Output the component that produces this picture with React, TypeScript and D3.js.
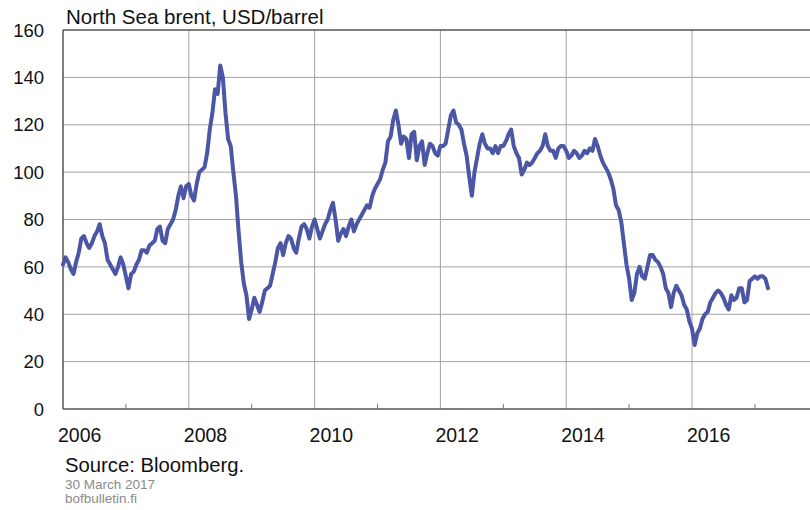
import React from 'react'
import * as d3 from 'd3'

// Brent, USD/barrel, two readings per month
const p2006 = [61, 64, 62, 59, 57, 62, 66, 72, 73, 70, 68, 70, 73, 75, 78, 73, 70, 63, 61, 59, 57, 60, 64, 61]
const p2007 = [56, 51, 57, 58, 61, 63, 67, 67, 66, 69, 70, 71, 76, 77, 71, 70, 76, 78, 80, 84, 90, 94, 89, 94]
const p2008 = [95, 90, 88, 95, 100, 101, 102, 108, 118, 125, 135, 133, 145, 140, 125, 114, 111, 100, 90, 75, 62, 53, 48, 38]
const p2009 = [42, 47, 44, 41, 45, 50, 51, 52, 57, 62, 68, 70, 65, 70, 73, 72, 68, 66, 72, 77, 78, 76, 72, 77]
const p2010 = [80, 76, 72, 75, 78, 80, 84, 87, 80, 71, 74, 76, 73, 77, 80, 75, 78, 80, 82, 84, 86, 85, 90, 93]
const p2011 = [95, 97, 101, 104, 113, 115, 122, 126, 120, 112, 115, 114, 106, 116, 117, 105, 111, 113, 103, 108, 112, 111, 108, 107]
const p2012 = [111, 111, 112, 118, 124, 126, 121, 120, 118, 112, 107, 98, 90, 100, 106, 112, 116, 112, 110, 110, 108, 111, 108, 111]
const p2013 = [111, 113, 116, 118, 111, 108, 106, 99, 101, 104, 103, 104, 106, 108, 109, 111, 116, 111, 109, 109, 106, 110, 111, 111]
const p2014 = [109, 106, 107, 109, 108, 106, 107, 109, 108, 110, 109, 114, 111, 107, 104, 102, 100, 97, 93, 86, 84, 79, 70, 61]
const p2015 = [55, 46, 49, 57, 60, 56, 55, 60, 65, 65, 63, 62, 60, 57, 51, 49, 43, 49, 52, 50, 48, 44, 42, 37]
const p2016 = [34, 27, 32, 34, 38, 40, 41, 45, 47, 49, 50, 49, 47, 44, 42, 48, 46, 47, 51, 51, 45, 46, 54, 55]
const p2017 = [56, 55, 56, 56, 55, 51]

const years = [2006, 2007, 2008, 2009, 2010, 2011, 2012, 2013, 2014, 2015, 2016, 2017]
const series = [p2006, p2007, p2008, p2009, p2010, p2011, p2012, p2013, p2014, p2015, p2016, p2017]
const yTicks = [0, 20, 40, 60, 80, 100, 120, 140, 160]
const xLabels = [2006, 2008, 2010, 2012, 2014, 2016]
const minorTicks = [2007, 2009, 2011, 2013, 2015, 2017]

const W = 810, H = 510
const left = 63, right = 810, top = 30, bottom = 409
const font = "'Liberation Sans', Arial, sans-serif"

export default function App() {
    const data = years.flatMap((yr, i) => series[i].map((v, j) => ({ t: yr + j / 24, v })))

    const x = d3.scaleLinear().domain([2006, 2017.876]).range([left, right])
    const y = d3.scaleLinear().domain([0, 160]).range([bottom, top])

    const line = d3.line<{ t: number, v: number }>()
        .x(d => x(d.t))
        .y(d => y(d.v))

    return (
        <svg width={W} height={H} style={{ position: 'absolute', left: 0, top: 0, background: '#fff' }}>
            <rect width={W} height={H} fill="#fff" />
            {/* grid */}
            <g stroke="#a3a3a3" strokeWidth={1}>
                {yTicks.filter(t => t > 0 && t < 160).map(t => (
                    <line key={t} x1={left} x2={right} y1={y(t)} y2={y(t)} />
                ))}
                {xLabels.filter(t => t > 2006).map(t => (
                    <line key={t} x1={x(t)} x2={x(t)} y1={top} y2={bottom} />
                ))}
            </g>
            {/* frame */}
            <g stroke="#555" strokeWidth={1.5}>
                <line x1={left} x2={right} y1={top} y2={top} />
                <line x1={left} x2={right} y1={bottom} y2={bottom} />
                <line x1={left} x2={left} y1={top} y2={bottom} />
                {minorTicks.map(t => (
                    <line key={t} x1={x(t)} x2={x(t)} y1={bottom} y2={bottom - 5} strokeWidth={1} stroke="#777" />
                ))}
            </g>
            <path d={line(data) || ''} fill="none" stroke="#4b56a5" strokeWidth={4}
                strokeLinejoin="round" strokeLinecap="round" />
            {/* y labels */}
            <g fontFamily={font} fontSize={18.5} fill="#111" textAnchor="end">
                {yTicks.map(t => (
                    <text key={t} x={44} y={y(t)} dy="0.36em">{t}</text>
                ))}
            </g>
            {/* x labels */}
            <g fontFamily={font} fontSize={19.5} fill="#111">
                {xLabels.map(t => (
                    <text key={t} x={x(t) - 5} y={442}>{t}</text>
                ))}
            </g>
            <text x={66} y={24} fontFamily={font} fontSize={20.5} fill="#111">North Sea brent, USD/barrel</text>
            <text x={65} y={472} fontFamily={font} fontSize={20.3} fill="#111">Source: Bloomberg.</text>
            <text x={65} y={489} fontFamily={font} fontSize={13.5} fill="#8a8a8a">30 March 2017</text>
            <text x={65} y={503} fontFamily={font} fontSize={13.5} fill="#8a8a8a">bofbulletin.fi</text>
        </svg>
    )
}
